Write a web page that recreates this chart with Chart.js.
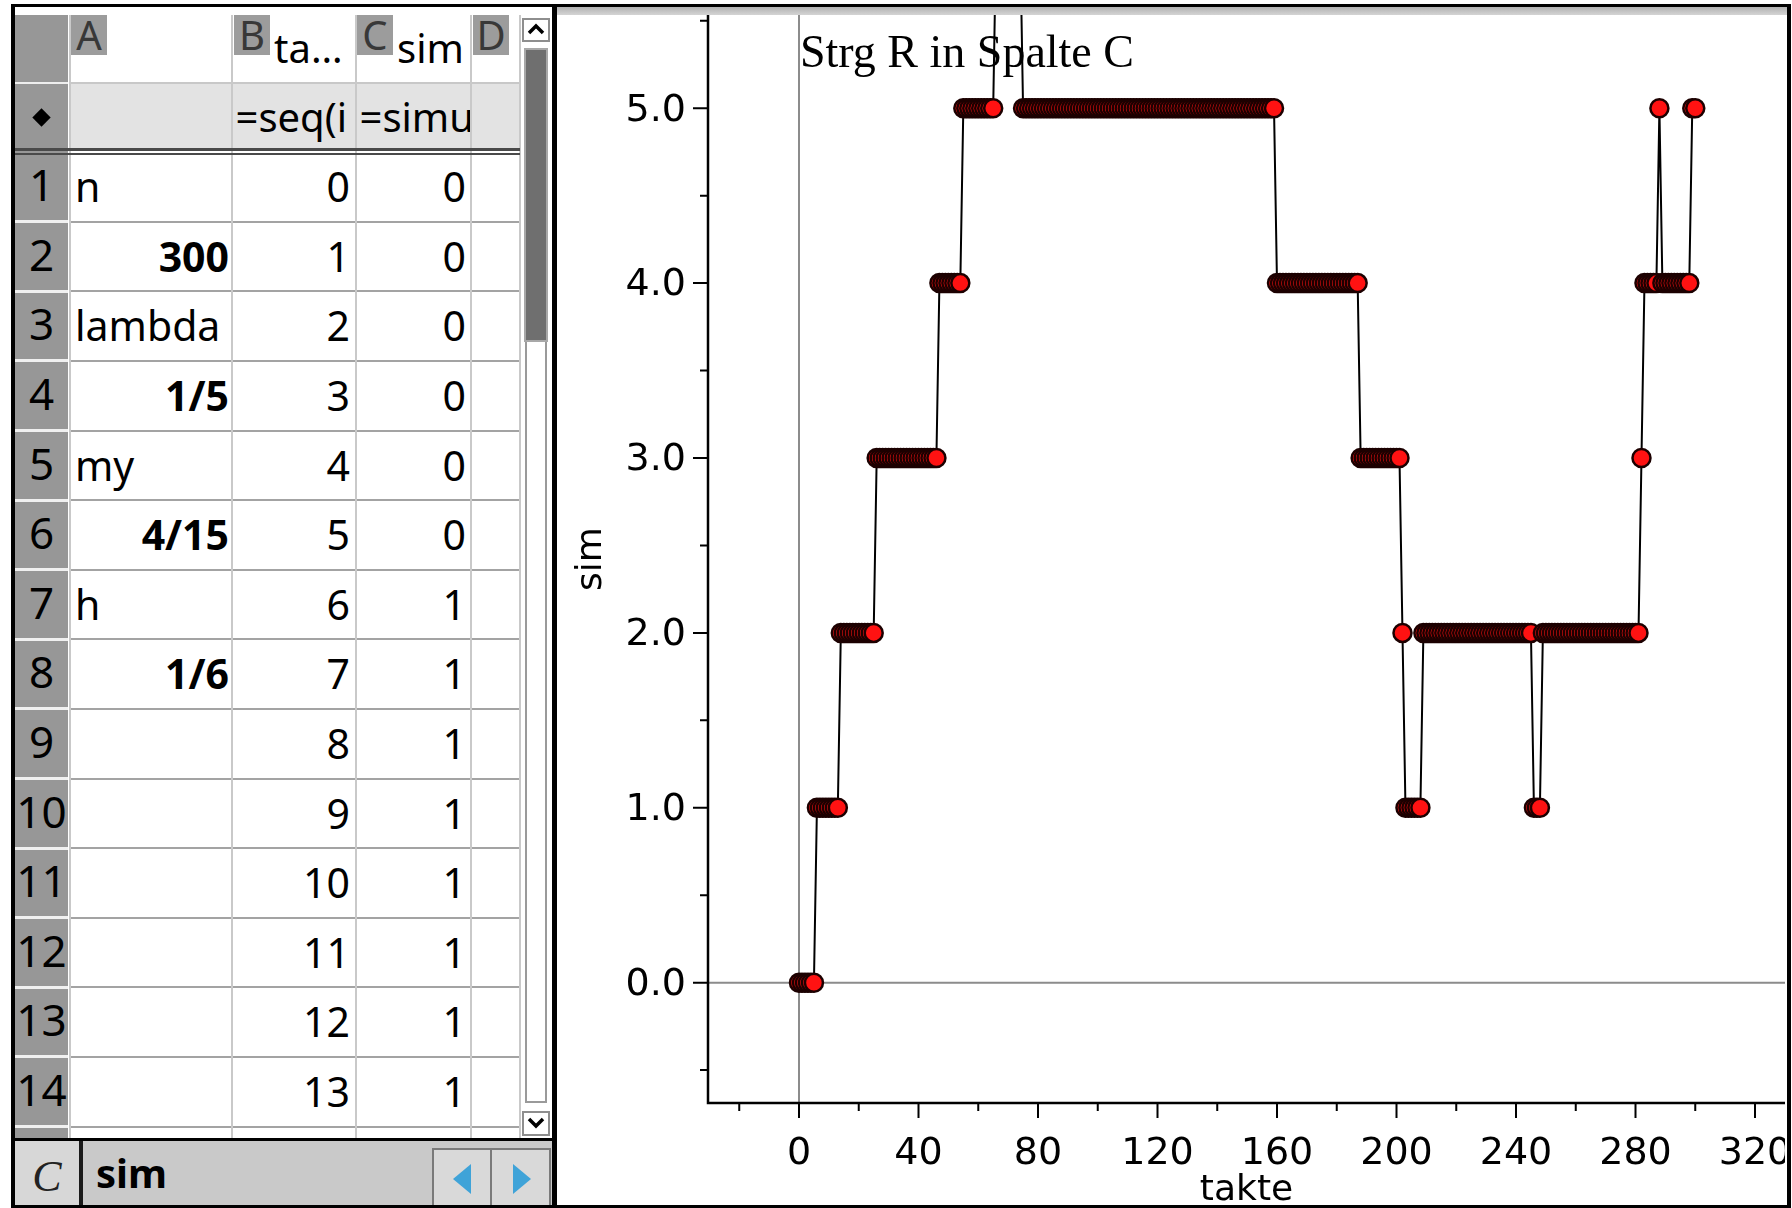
<!DOCTYPE html>
<html lang="de">
<head>
<meta charset="utf-8">
<title>sim – takte</title>
<script src="https://cdn.jsdelivr.net/npm/chart.js@4/dist/chart.umd.min.js"></script>
<style>
html,body{margin:0;padding:0;background:#fff}
body{position:relative;width:1792px;height:1208px;overflow:hidden;font-family:'Noto Sans',sans-serif;color:#000}
.a{position:absolute;box-sizing:border-box;white-space:nowrap}
</style>
</head>
<body>
<div id="sheet"></div>
<canvas id="plot" class="a" width="1227" height="1193" style="left:558px;top:15px;width:1227px;height:1193px"></canvas>
<div class="a" id="hint" style="left:800px;top:28.5px;font-family:'Liberation Serif',serif;font-size:46px;line-height:46px;color:#000">Strg R in Spalte C</div>
<div class="a" style="left:557px;top:7px;width:1230px;height:8px;background:linear-gradient(#b2b2b2,#d4d4d4)"></div>
<div class="a" style="left:552px;top:4px;width:5px;height:1204px;background:#000"></div>
<div class="a" style="left:11px;top:4px;width:1780px;height:1204px;border:solid #000;border-width:3px 4px 3px 4px"></div>
<script>
// ---------------- data ----------------
const takte = [
  0,1,2,3,4,5,6,7,8,9,10,11,12,13,14,15,16,17,18,19,
  20,21,22,23,24,25,26,27,28,29,30,31,32,33,34,35,36,37,38,39,
  40,41,42,43,44,45,46,47,48,49,50,51,52,53,54,55,56,57,58,59,
  60,61,62,63,64,65,66,67,68,69,70,71,72,73,74,75,76,77,78,79,
  80,81,82,83,84,85,86,87,88,89,90,91,92,93,94,95,96,97,98,99,
  100,101,102,103,104,105,106,107,108,109,110,111,112,113,114,115,116,117,118,119,
  120,121,122,123,124,125,126,127,128,129,130,131,132,133,134,135,136,137,138,139,
  140,141,142,143,144,145,146,147,148,149,150,151,152,153,154,155,156,157,158,159,
  160,161,162,163,164,165,166,167,168,169,170,171,172,173,174,175,176,177,178,179,
  180,181,182,183,184,185,186,187,188,189,190,191,192,193,194,195,196,197,198,199,
  200,201,202,203,204,205,206,207,208,209,210,211,212,213,214,215,216,217,218,219,
  220,221,222,223,224,225,226,227,228,229,230,231,232,233,234,235,236,237,238,239,
  240,241,242,243,244,245,246,247,248,249,250,251,252,253,254,255,256,257,258,259,
  260,261,262,263,264,265,266,267,268,269,270,271,272,273,274,275,276,277,278,279,
  280,281,282,283,284,285,286,287,288,289,290,291,292,293,294,295,296,297,298,299,
  300
];
const sim = [
  0,0,0,0,0,0,1,1,1,1,1,1,1,1,2,2,2,2,2,2,
  2,2,2,2,2,2,3,3,3,3,3,3,3,3,3,3,3,3,3,3,
  3,3,3,3,3,3,3,4,4,4,4,4,4,4,4,5,5,5,5,5,
  5,5,5,5,5,5,6,6,6,6,6,6,6,6,6,5,5,5,5,5,
  5,5,5,5,5,5,5,5,5,5,5,5,5,5,5,5,5,5,5,5,
  5,5,5,5,5,5,5,5,5,5,5,5,5,5,5,5,5,5,5,5,
  5,5,5,5,5,5,5,5,5,5,5,5,5,5,5,5,5,5,5,5,
  5,5,5,5,5,5,5,5,5,5,5,5,5,5,5,5,5,5,5,5,
  4,4,4,4,4,4,4,4,4,4,4,4,4,4,4,4,4,4,4,4,
  4,4,4,4,4,4,4,4,3,3,3,3,3,3,3,3,3,3,3,3,
  3,3,2,1,1,1,1,1,1,2,2,2,2,2,2,2,2,2,2,2,
  2,2,2,2,2,2,2,2,2,2,2,2,2,2,2,2,2,2,2,2,
  2,2,2,2,2,2,1,1,1,2,2,2,2,2,2,2,2,2,2,2,
  2,2,2,2,2,2,2,2,2,2,2,2,2,2,2,2,2,2,2,2,
  2,2,3,4,4,4,4,4,5,4,4,4,4,4,4,4,4,4,4,5,
  5
];
const xMajorTicks = [0,40,80,120,160,200,240,280,320];
const xMinorTicks = [-20,20,60,100,140,180,220,260,300];
const yMajorTicks = [0,1,2,3,4,5];
const yMinorTicks = [-0.5,0.5,1.5,2.5,3.5,4.5,5.5];
const paramNames  = ['n','lambda','my','h'];
const paramValues = ['300','1/5','4/15','1/6'];
const colLetters  = ['A','B','C','D'];
const colTitles   = ['','ta…','sim',''];
const colFormulas = ['','=seq(i','=simu',''];
const visibleRows = 14;

// ---------------- spreadsheet panel ----------------
const S = document.getElementById('sheet');
function el(x,y,w,h,css,txt){
  const d=document.createElement('div');d.className='a';
  d.style.cssText='left:'+x+'px;top:'+y+'px;width:'+w+'px;height:'+h+'px;'+(css||'');
  if(txt!=null)d.textContent=txt;S.appendChild(d);return d;
}
const ROW0=152.1, RH=69.6;
const colX=[69.5,231.5,355.5,470.5,519.5];
el(15,15,53,1123,'background:#979797');
el(70,83,450,65,'background:#e3e3e3');
el(15,81.5,53,2,'background:#eeeeee');
el(70,81.5,450,2,'background:#c8c8c8');
for(let i=0;i<visibleRows;i++){
  const yb=ROW0+(i+1)*RH;
  el(71,yb-1,449,2,'background:#a3a3a3');
  el(15,yb-1.5,53,3,'background:#f0f0f0');
}
colX.forEach(x=>el(x-1,15,2,1123,'background:#c9c9c9'));
el(15,148,505,2.5,'background:#4a4a4a');
el(15,152.5,505,2.5,'background:#4a4a4a');
// header badges and titles
const badgeX=[71,234,357,473];
colLetters.forEach((c,i)=>{
  el(badgeX[i],15,36,40,'background:#9c9c9c;color:#383838;font-size:40px;line-height:40px;text-align:center',c);
  if(colTitles[i]) el(badgeX[i]+40,27.5,colX[i+1]-badgeX[i]-42,45,'font-size:40px;line-height:40px;overflow:hidden',colTitles[i]);
  if(colFormulas[i]) el(colX[i]+4,96.5,colX[i+1]-colX[i]-5,45,'font-size:40px;line-height:40px;overflow:hidden',colFormulas[i]);
});
// diamond in formula row
el(35,110.5,13,13,'background:#000;transform:rotate(45deg)');
// rows
for(let i=0;i<visibleRows;i++){
  const y=ROW0+i*RH;
  el(15,y,53,RH,'font-size:44px;line-height:'+(RH-4)+'px;text-align:center',String(i+1));
  if(i<8){
    const k=Math.floor(i/2);
    if(i%2===0) el(75,y,150,RH,'font-size:41px;line-height:'+RH+'px',paramNames[k]);
    else el(71,y,158,RH,'font-size:41px;font-weight:700;line-height:'+RH+'px;text-align:right',paramValues[k]);
  }
  el(233,y,117,RH,'font-size:41px;line-height:'+RH+'px;text-align:right',String(takte[i]));
  el(357,y,109,RH,'font-size:41px;line-height:'+RH+'px;text-align:right',String(sim[i]));
}
// scrollbar
el(520.5,8,31,1130,'background:#fff');
el(522,18,28,24,'border:2px solid #8e8e8e;background:#fff').innerHTML='<svg width="24" height="20" style="position:absolute;left:0;top:0"><polyline points="5,13 12,6 19,13" fill="none" stroke="#000" stroke-width="3.5"/></svg>';
el(523.5,48,24,294,'background:#6f6f6f;border:2px solid #a8a8a8');
el(524.5,342,22,761,'border:2px solid #9a9a9a;border-top:none;background:#fff');
el(522,1111,28,25,'border:2px solid #8e8e8e;background:#fff').innerHTML='<svg width="24" height="21" style="position:absolute;left:0;top:0"><polyline points="5,6 12,13 19,6" fill="none" stroke="#000" stroke-width="3.5"/></svg>';
// bottom bar
el(15,1138,537,3,'background:#000');
el(15,1141,537,64,'background:#c9c9c9');
el(15,1141,64,64,'background:#d7d7d7');
el(79,1141,4,64,'background:#1a1a1a');
el(15,1155,64,44,"font-family:'Liberation Serif',serif;font-style:italic;font-size:44px;line-height:44px;text-align:center;color:#222",'C');
el(96,1152.5,200,40,'font-weight:700;font-size:40px;line-height:40px','sim');
el(432,1148,60,57,'background:#d9d9d9;border:2px solid #7a7a7a;border-bottom:none').innerHTML='<svg width="56" height="55" style="position:absolute;left:0;top:0"><polygon points="37,14 19,29 37,44" fill="#3fa3d8"/></svg>';
el(492,1148,59,57,'background:#d9d9d9;border:2px solid #7a7a7a;border-bottom:none;border-left:none').innerHTML='<svg width="56" height="55" style="position:absolute;left:0;top:0"><polygon points="21,14 39,29 21,44" fill="#3fa3d8"/></svg>';

// ---------------- graph ----------------
Chart.defaults.font.family='DejaVu Sans';
const tickFont={family:'DejaVu Sans',size:38};
const axesPlugin={
  id:'nspireAxes',
  beforeDatasetsDraw(chart){
    const {ctx,chartArea:a,scales:{x,y}}=chart;
    ctx.save();
    const x0=x.getPixelForValue(0), y0=y.getPixelForValue(0);
    ctx.strokeStyle='#8c8c8c';ctx.lineWidth=2;
    ctx.beginPath();ctx.moveTo(x0,a.top);ctx.lineTo(x0,a.bottom);
    ctx.moveTo(a.left,y0);ctx.lineTo(a.right,y0);ctx.stroke();
    ctx.strokeStyle='#000';ctx.lineWidth=2.5;
    ctx.beginPath();ctx.moveTo(a.left,a.top);ctx.lineTo(a.left,a.bottom);ctx.lineTo(a.right,a.bottom);ctx.stroke();
    ctx.lineWidth=2;ctx.beginPath();
    yMajorTicks.forEach(v=>{const p=y.getPixelForValue(v);ctx.moveTo(a.left-15,p);ctx.lineTo(a.left,p);});
    yMinorTicks.forEach(v=>{const p=y.getPixelForValue(v);ctx.moveTo(a.left-8,p);ctx.lineTo(a.left,p);});
    xMajorTicks.forEach(v=>{const p=x.getPixelForValue(v);ctx.moveTo(p,a.bottom);ctx.lineTo(p,a.bottom+15);});
    xMinorTicks.forEach(v=>{const p=x.getPixelForValue(v);ctx.moveTo(p,a.bottom);ctx.lineTo(p,a.bottom+8);});
    ctx.stroke();ctx.restore();
  }
};
new Chart(document.getElementById('plot'),{
  type:'line',
  data:{datasets:[{
    label:'sim',
    data:takte.map((t,i)=>({x:t,y:sim[i]})),
    borderColor:'#000',borderWidth:2,tension:0,
    pointRadius:9,pointBorderWidth:2.5,
    pointBackgroundColor:'#ff1212',pointBorderColor:'#1c0000'
  }]},
  options:{
    responsive:false,animation:false,devicePixelRatio:1,
    layout:{padding:0,autoPadding:false},
    plugins:{legend:{display:false},tooltip:{enabled:false}},
    scales:{
      x:{
        type:'linear',min:-30.46,max:330.04,
        afterBuildTicks:s=>{s.ticks=[...xMinorTicks,...xMajorTicks].sort((p,q)=>p-q).map(v=>({value:v}));},
        afterFit:s=>{s.height=105;s.paddingLeft=0;s.paddingRight=0;},
        grid:{display:false,drawTicks:false},border:{display:false},
        ticks:{autoSkip:false,maxRotation:0,minRotation:0,padding:28,font:tickFont,color:'#000',
          callback:v=>xMajorTicks.includes(v)?String(v):''},
        title:{display:true,text:'takte',color:'#000',font:{family:'DejaVu Sans',size:36,lineHeight:1},padding:{top:0,bottom:-1}}
      },
      y:{
        type:'linear',min:-0.688,max:5.533,
        afterBuildTicks:s=>{s.ticks=[...yMinorTicks,...yMajorTicks].sort((p,q)=>p-q).map(v=>({value:v}));},
        afterFit:s=>{s.width=150;s.paddingTop=0;s.paddingBottom=0;},
        grid:{display:false,drawTicks:false},border:{display:false},
        ticks:{autoSkip:false,padding:22,labelOffset:2.5,font:tickFont,color:'#000',
          callback:v=>yMajorTicks.includes(v)?v.toFixed(1):''},
        title:{display:true,text:'sim',color:'#000',font:{family:'DejaVu Sans',size:36},padding:{top:12,bottom:0}}
      }
    }
  },
  plugins:[axesPlugin]
});
</script>
</body>
</html>
